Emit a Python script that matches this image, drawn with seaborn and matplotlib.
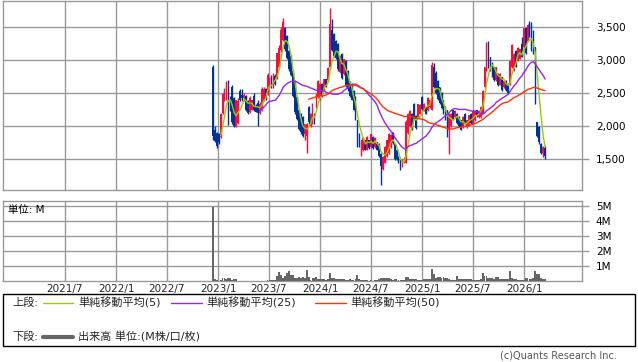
import numpy as np
import pandas as pd
import matplotlib
matplotlib.use('Agg')
import matplotlib.pyplot as plt
from matplotlib.patches import Rectangle
from matplotlib.lines import Line2D
import seaborn as sns

sns.set_style('white')
plt.rcParams['font.family'] = ['DejaVu Sans', 'Noto Sans CJK JP']

# ---------------- data (weekly candles) ----------------
start_date = '2022-12-13'

opens = [2900, 1950, 1900, 1880, 1840, 2200, 2400, 2420, 2640, 2430,
         2600, 2430, 2000, 2050, 2540, 2480, 2430, 2460, 2380, 2220,
         2250, 2450, 2300, 2350, 2200, 2250, 2400, 2560, 2500, 2650,
         2750, 2600, 2760, 2740, 2900, 3150, 3300, 3480, 3360, 3140,
         3060, 2840, 2690, 2440, 2240, 2190, 2140, 1890, 1850, 2290,
         2000, 2050, 2190, 2290, 2440, 2400, 2640, 2540, 2710, 2700,
         2890, 3460, 3390, 3290, 3240, 2820, 3090, 2790, 2990, 2840,
         2660, 2640, 2540, 2440, 2090, 1890, 1570, 1640, 1790, 1650,
         1790, 1690, 1840, 1690, 1760, 1740, 1590, 1350, 1450, 1550,
         1600, 1690, 1910, 1740, 1640, 1540, 1490, 1400, 1450, 1450,
         1900, 2000, 2190, 2340, 2160, 2140, 2190, 2440, 2240, 2290,
         2240, 2290, 2250, 2900, 2810, 2690, 2590, 2500, 2390, 2290,
         2240, 1940, 2000, 2240, 2140, 2190, 2140, 2090, 1990, 2190,
         1990, 2015, 2190, 2040, 2090, 2240, 2140, 2140, 2190, 2590,
         2840, 3200, 3040, 2960, 2890, 2700, 2790, 2630, 2740, 2590,
         2690, 2640, 2640, 2890, 2840, 3140, 2990, 3020, 3240, 3190,
         3490, 3290, 3540, 3560, 3440, 3190, 2060, 1990, 1740, 1600,
         1670]

highs = [2930, 2000, 1920, 1900, 2200, 2500, 2580, 2690, 2700, 2450,
         2620, 2440, 2400, 2420, 2560, 2560, 2500, 2480, 2400, 2450,
         2400, 2500, 2330, 2400, 2370, 2600, 2600, 2580, 2800, 2740,
         2770, 2800, 2790, 3110, 3220, 3500, 3630, 3500, 3370, 3150,
         3070, 2850, 2700, 2450, 2250, 2200, 2150, 2040, 2050, 2300,
         2200, 2350, 2200, 2500, 2700, 2650, 2650, 2720, 2720, 2890,
         3790, 3615, 3400, 3300, 3250, 3070, 3100, 3020, 3000, 2850,
         2680, 2650, 2550, 2450, 2100, 1900, 1800, 1840, 1800, 1850,
         1800, 1890, 1850, 1840, 1770, 1750, 1600, 1550, 1700, 1800,
         1900, 1890, 1920, 1750, 1650, 1550, 1500, 1500, 1540, 2090,
         2200, 2250, 2200, 2350, 2170, 2340, 2330, 2450, 2350, 2300,
         2440, 2400, 2965, 2960, 2830, 2700, 2600, 2520, 2400, 2300,
         2250, 2200, 2200, 2250, 2240, 2200, 2150, 2100, 2150, 2200,
         2100, 2170, 2200, 2240, 2240, 2250, 2240, 2300, 2550, 2900,
         3265, 3290, 3050, 2970, 2900, 2900, 2800, 2800, 2750, 2700,
         2700, 2650, 2990, 3240, 3100, 3150, 3190, 3170, 3340, 3490,
         3500, 3540, 3590, 3580, 3450, 3200, 2070, 2000, 1750, 1700,
         1700]

lows = [1800, 1760, 1680, 1740, 1830, 2190, 2380, 2400, 2020, 2230,
        2040, 1990, 1990, 2030, 2380, 2380, 2380, 2230, 2190, 2200,
        2240, 2230, 2210, 2010, 2180, 2230, 2380, 2400, 2480, 2600,
        2580, 2580, 2620, 2720, 2880, 3120, 3280, 3140, 3010, 2840,
        2760, 2440, 2190, 2090, 1940, 1890, 1840, 1790, 1600, 2040,
        1990, 2040, 2040, 2280, 2430, 2390, 2440, 2530, 2590, 2690,
        2880, 3130, 3040, 3010, 2840, 2810, 2710, 2780, 2590, 2540,
        2440, 2390, 2240, 2090, 1690, 1690, 1560, 1630, 1640, 1640,
        1660, 1680, 1660, 1680, 1640, 1540, 1120, 1340, 1440, 1540,
        1590, 1680, 1740, 1490, 1490, 1440, 1340, 1390, 1440, 1440,
        1890, 1990, 1940, 2090, 1960, 2130, 2180, 2240, 2230, 2180,
        2230, 2280, 2240, 2580, 2490, 2390, 2340, 2260, 2190, 2090,
        1840, 1590, 1990, 2090, 2130, 2040, 1990, 1940, 1980, 2040,
        1980, 2010, 2040, 2030, 2080, 2140, 2130, 2130, 2180, 2580,
        2830, 2880, 2840, 2740, 2690, 2690, 2610, 2620, 2540, 2580,
        2540, 2490, 2630, 2880, 2830, 2890, 2980, 3010, 3040, 3180,
        3090, 3280, 3340, 3140, 3090, 2340, 1840, 1740, 1590, 1540,
        1515]

closes = [1850, 1780, 1700, 1760, 2190, 2490, 2560, 2600, 2100, 2250,
          2060, 2000, 2390, 2380, 2400, 2420, 2470, 2250, 2200, 2430,
          2390, 2240, 2220, 2200, 2340, 2570, 2560, 2420, 2780, 2700,
          2600, 2780, 2640, 3100, 3180, 3450, 3580, 3160, 3030, 2860,
          2780, 2460, 2210, 2110, 1960, 1910, 1860, 2030, 2040, 2060,
          2190, 2340, 2050, 2490, 2690, 2640, 2450, 2710, 2600, 2880,
          3540, 3150, 3060, 3030, 2860, 3060, 2730, 3010, 2610, 2560,
          2450, 2400, 2250, 2100, 1700, 1700, 1790, 1830, 1650, 1840,
          1670, 1880, 1670, 1830, 1650, 1550, 1400, 1540, 1690, 1790,
          1880, 1870, 1750, 1500, 1500, 1450, 1360, 1490, 1530, 2070,
          2190, 2230, 1960, 2110, 1980, 2330, 2320, 2260, 2340, 2190,
          2430, 2390, 2930, 2600, 2510, 2410, 2350, 2280, 2200, 2100,
          1890, 2190, 2190, 2100, 2230, 2050, 2000, 1950, 2140, 2050,
          2090, 2165, 2050, 2230, 2230, 2150, 2230, 2290, 2540, 2890,
          3240, 2900, 2850, 2750, 2700, 2890, 2620, 2790, 2550, 2690,
          2550, 2500, 2980, 3230, 3090, 2900, 3180, 3160, 3050, 3480,
          3100, 3530, 3350, 3150, 3100, 2360, 1860, 1760, 1600, 1690,
          1550]

volumes_m = [4.95, 0.15, 0.05, 0.03, 0.05, 0.17, 0.17, 0.15, 0.18, 0.18,
             0.05, 0.10, 0.10, 0.02, 0.02, 0.02, 0.02, 0.02, 0.02, 0.02,
             0.02, 0.02, 0.02, 0.02, 0.02, 0.02, 0.02, 0.02, 0.05, 0.05,
             0.05, 0.05, 0.05, 0.30, 0.58, 0.40, 0.22, 0.36, 0.51, 0.67,
             0.40, 0.40, 0.22, 0.22, 0.27, 0.22, 0.27, 0.20, 0.73, 0.27,
             0.07, 0.18, 0.18, 0.27, 0.10, 0.10, 0.10, 0.10, 0.05, 0.10,
             0.51, 0.18, 0.18, 0.10, 0.10, 0.10, 0.10, 0.10, 0.05, 0.05,
             0.10, 0.05, 0.05, 0.10, 0.40, 0.13, 0.08, 0.05, 0.05, 0.05,
             0.03, 0.05, 0.03, 0.05, 0.05, 0.10, 0.18, 0.22, 0.22, 0.18,
             0.18, 0.13, 0.09, 0.13, 0.13, 0.07, 0.05, 0.05, 0.05, 0.25,
             0.25, 0.10, 0.10, 0.10, 0.10, 0.05, 0.05, 0.05, 0.10, 0.10,
             0.10, 0.10, 0.78, 0.45, 0.18, 0.27, 0.27, 0.22, 0.27, 0.22,
             0.22, 0.10, 0.05, 0.05, 0.05, 0.31, 0.10, 0.10, 0.10, 0.10,
             0.10, 0.10, 0.10, 0.05, 0.05, 0.05, 0.05, 0.10, 0.51, 0.36,
             0.36, 0.22, 0.18, 0.18, 0.10, 0.29, 0.29, 0.16, 0.10, 0.10,
             0.10, 0.10, 0.65, 0.22, 0.10, 0.10, 0.05, 0.05, 0.05, 0.05,
             0.18, 0.18, 0.15, 0.13, 0.20, 0.67, 0.45, 0.45, 0.22, 0.10,
             0.10]

price_ticks = [1500, 2000, 2500, 3000, 3500]
volume_ticks = [1, 2, 3, 4, 5]
date_ticks = ['2021-07-01', '2022-01-01', '2022-07-01', '2023-01-01', '2023-07-01',
              '2024-01-01', '2024-07-01', '2025-01-01', '2025-07-01', '2026-01-01']
date_labels = ['2021/7', '2022/1', '2022/7', '2023/1', '2023/7',
               '2024/1', '2024/7', '2025/1', '2025/7', '2026/1']
ma_windows = [5, 25, 50]
legend_top = ['上段:', '単純移動平均(5)', '単純移動平均(25)', '単純移動平均(50)']
legend_bottom = ['下段:', '出来高 単位:(M株/口/枚)']
unit_label = '単位: M'
credit = '(c)Quants Research Inc.'

# ---------------- frame ----------------
df = pd.DataFrame({
    'date': pd.date_range(start=start_date, periods=len(closes), freq='7D'),
    'open': opens, 'high': highs, 'low': lows, 'close': closes,
    'volume': volumes_m,
})
for w in ma_windows:
    df[f'ma{w}'] = df['close'].rolling(w).mean()

RED = '#ff0a3c'
BLUE = '#003399'
GRID = '#999999'
MA_COLORS = {5: '#99cc00', 25: '#9922ee', 50: '#ff3300'}
VOL = '#666666'

W, H = 638, 362
fig = plt.figure(figsize=(W / 100, H / 100), dpi=100)


def fx(px):
    return px / W


def fy(py):
    return 1 - py / H


ax1 = fig.add_axes([fx(3), fy(190), fx(579), 189 / H])
ax2 = fig.add_axes([fx(3), fy(281), fx(579), 80 / H])

xmin = pd.Timestamp('2020-11-22')
xmax = pd.Timestamp('2026-07-27')
tick_dates = pd.to_datetime(date_ticks)

for ax in (ax1, ax2):
    ax.set_xlim(xmin, xmax)
    ax.set_axisbelow(True)
    ax.grid(True, color=GRID, lw=1)
    for s in ax.spines.values():
        s.set_color(GRID)
        s.set_linewidth(1)
    ax.set_xticks(tick_dates)
    ax.yaxis.tick_right()
    ax.tick_params(axis='y', length=5, color=GRID, width=1, pad=5,
                   labelsize=7.5, labelcolor='black')
    ax.tick_params(axis='x', length=0)

# ---- candles ----
up = df['close'] >= df['open']
body_w = pd.Timedelta(days=6.0)
colors = np.where(up, RED, BLUE)
ax1.vlines(df['date'], df['low'], df['high'], colors=colors, lw=1, zorder=3)
body_bottom = np.minimum(df['open'], df['close'])
body_h = np.maximum(np.abs(df['close'] - df['open']), 8)
ax1.bar(df['date'], body_h, bottom=body_bottom, width=body_w, color=colors,
        linewidth=0, zorder=3)

for w in ma_windows:
    sns.lineplot(data=df, x='date', y=f'ma{w}', ax=ax1, color=MA_COLORS[w],
                 lw=1, legend=False, zorder=4)

ax1.set_ylim(1040, 3890)
ax1.set_yticks(price_ticks)
ax1.set_yticklabels([f'{v:,}' for v in price_ticks])
ax1.set_xticklabels([])
ax1.set_xlabel('')
ax1.set_ylabel('')

# ---- volume ----
ax2.bar(df['date'], df['volume'], width=pd.Timedelta(days=6.8), color=VOL,
        linewidth=0, zorder=3)
ax2.set_ylim(0, 5.33)
ax2.set_yticks(volume_ticks)
ax2.set_yticklabels([f'{v}M' for v in volume_ticks])
ax2.set_xticklabels(date_labels, fontsize=7.5)
ax2.tick_params(axis='x', pad=2)
ax2.set_xlabel('')
ax2.set_ylabel('')
ax2.text(fx(8), fy(210), unit_label, transform=fig.transFigure, fontsize=7.5,
         va='center', ha='left', color='black')

# ---- legend box ----
fig.add_artist(Rectangle((fx(3), fy(346)), fx(632), 52 / H, transform=fig.transFigure,
                         fill=False, edgecolor='black', lw=1))
row1, row2 = 303, 337
LFS = 8
fig.text(fx(12), fy(row1), legend_top[0], fontsize=LFS, va='center', ha='left')
segments = [(43, 73, 78, MA_COLORS[5], legend_top[1]),
            (171, 202, 206, MA_COLORS[25], legend_top[2]),
            (315, 346, 350, MA_COLORS[50], legend_top[3])]
for x0, x1, xt, c, label in segments:
    fig.add_artist(Line2D([fx(x0), fx(x1)], [fy(row1), fy(row1)], color=c, lw=1,
                          transform=fig.transFigure))
    fig.text(fx(xt), fy(row1), label, fontsize=LFS, va='center', ha='left')
fig.text(fx(12), fy(row2), legend_bottom[0], fontsize=LFS, va='center', ha='left')
fig.add_artist(Line2D([fx(43), fx(73)], [fy(row2), fy(row2)], color=VOL, lw=3,
                      transform=fig.transFigure))
fig.text(fx(78), fy(row2), legend_bottom[1], fontsize=LFS, va='center', ha='left')

fig.text(fx(617), fy(351), credit, fontsize=7, va='top', ha='right', color='#555555')

fig.savefig('out.png', dpi=100)
